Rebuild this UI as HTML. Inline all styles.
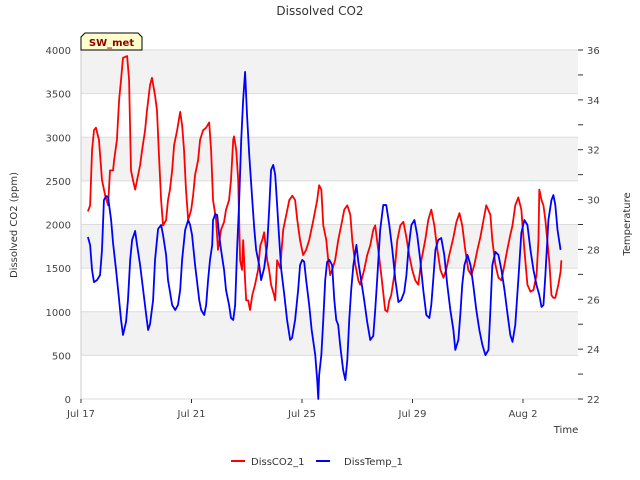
<!DOCTYPE html>
<html><head><meta charset="utf-8"><style>
body{margin:0;background:#fff;}
svg{display:block;font-family:"DejaVu Sans","Liberation Sans",sans-serif;}
</style></head><body>
<svg id="chart" width="640" height="480" viewBox="0 0 640 480">
<text x="320" y="15" text-anchor="middle" font-size="12" fill="#333">Dissolved CO2</text>
<g id="grid"></g>
<g id="axes"></g>
<g id="series"></g>
<g>
<path d="M81,50 L81,37 L85,33 L138,33 L142,37 L142,50 Z" fill="#ffffcc" stroke="#000" stroke-width="1"/>
<text x="111.5" y="46" text-anchor="middle" font-size="10" font-weight="bold" fill="#8b0000">SW_met</text>
</g>
<text transform="translate(17,225) rotate(-90)" text-anchor="middle" font-size="10" fill="#333">Dissolved CO2 (ppm)</text>
<text transform="translate(630,224) rotate(-90)" text-anchor="middle" font-size="10" fill="#333">Temperature</text>
<text x="566" y="433" text-anchor="middle" font-size="10" fill="#333">Time</text>
<g>
<g><line x1="231" y1="461" x2="245" y2="461" stroke="#f00" stroke-width="2"/><text x="251" y="465" font-size="10" fill="#333">DissCO2_1</text></g>
<g><line x1="316" y1="461" x2="330" y2="461" stroke="#00f" stroke-width="2"/><text x="344" y="465" font-size="10" fill="#333">DissTemp_1</text></g>
</g>
</svg>
<script>
const co2Days=[0.25,0.33,0.40,0.47,0.54,0.65,0.76,0.87,0.98,1.05,1.16,1.20,1.30,1.38,1.45,1.52,1.67,1.74,1.81,1.88,1.96,2.03,2.14,2.21,2.32,2.39,2.50,2.57,2.68,2.75,2.83,2.90,2.97,3.08,3.15,3.22,3.30,3.37,3.48,3.59,3.66,3.73,3.80,3.88,3.99,4.06,4.13,4.24,4.31,4.42,4.53,4.64,4.71,4.78,4.89,4.96,5.07,5.18,5.25,5.36,5.43,5.51,5.54,5.62,5.69,5.76,5.83,5.87,5.94,5.98,6.05,6.12,6.20,6.30,6.41,6.49,6.56,6.63,6.74,6.81,6.88,6.99,7.03,7.10,7.21,7.32,7.43,7.54,7.65,7.75,7.83,7.93,8.04,8.15,8.26,8.41,8.55,8.62,8.70,8.77,8.88,8.95,9.02,9.09,9.20,9.31,9.42,9.53,9.64,9.75,9.82,9.93,10.04,10.11,10.25,10.36,10.47,10.58,10.65,10.76,10.87,11.01,11.09,11.16,11.23,11.34,11.45,11.56,11.67,11.78,11.88,11.99,12.10,12.21,12.32,12.46,12.57,12.68,12.79,12.90,13.01,13.12,13.22,13.33,13.48,13.59,13.70,13.80,13.91,14.02,14.13,14.24,14.35,14.46,14.57,14.67,14.82,14.89,15.00,15.11,15.22,15.33,15.43,15.54,15.62,15.72,15.83,15.94,16.05,16.16,16.27,16.38,16.49,16.56,16.59,16.67,16.74,16.81,16.88,16.96,17.03,17.10,17.17,17.28,17.36,17.39];
const co2Values=[2150,2220,2850,3080,3110,2970,2510,2340,2220,2620,2620,2740,2970,3430,3660,3910,3930,3660,2620,2510,2400,2510,2680,2850,3080,3310,3600,3680,3480,3310,2740,2280,1990,2050,2280,2400,2620,2910,3080,3290,3140,2850,2400,2050,2170,2340,2570,2740,2970,3080,3110,3170,2850,2280,2050,1710,1940,2030,2170,2280,2510,2970,3010,2850,2510,1590,1480,1820,1360,1130,1130,1020,1190,1310,1480,1760,1820,1910,1590,1480,1310,1190,1130,1590,1500,1940,2110,2280,2330,2280,2050,1820,1650,1710,1820,2050,2280,2450,2400,1990,1820,1590,1420,1480,1590,1820,1990,2170,2220,2110,1820,1540,1360,1310,1480,1650,1760,1940,1990,1710,1420,1020,1000,1130,1190,1420,1820,1990,2030,1850,1650,1480,1360,1310,1590,1820,2050,2170,1990,1710,1480,1390,1480,1650,1850,2030,2130,1990,1710,1480,1420,1540,1710,1860,2050,2220,2110,1820,1540,1390,1360,1540,1710,1880,1990,2220,2310,2170,1710,1310,1230,1250,1420,1820,2400,2280,2220,2050,1820,1540,1190,1160,1160,1310,1460,1590];
const tempDays=[0.25,0.33,0.40,0.47,0.58,0.69,0.76,0.83,0.91,0.98,1.09,1.16,1.27,1.38,1.45,1.52,1.63,1.70,1.78,1.85,1.96,2.03,2.14,2.25,2.36,2.43,2.50,2.61,2.68,2.79,2.90,2.97,3.08,3.15,3.30,3.41,3.51,3.59,3.66,3.77,3.88,3.95,4.02,4.13,4.28,4.35,4.46,4.53,4.60,4.67,4.75,4.78,4.86,4.93,5.00,5.07,5.18,5.25,5.36,5.43,5.51,5.58,5.65,5.72,5.80,5.87,5.94,6.01,6.09,6.20,6.27,6.34,6.45,6.52,6.63,6.74,6.81,6.88,6.96,7.03,7.10,7.17,7.25,7.36,7.46,7.57,7.64,7.75,7.86,7.93,8.01,8.08,8.15,8.26,8.35,8.48,8.55,8.59,8.62,8.70,8.77,8.84,8.91,8.99,9.09,9.17,9.24,9.31,9.38,9.49,9.57,9.64,9.71,9.78,9.86,9.97,10.04,10.14,10.25,10.36,10.47,10.58,10.65,10.72,10.83,10.94,11.05,11.16,11.27,11.38,11.49,11.59,11.70,11.78,11.85,11.96,12.07,12.17,12.28,12.39,12.50,12.61,12.68,12.75,12.83,12.93,13.04,13.15,13.26,13.37,13.48,13.55,13.66,13.73,13.80,13.88,13.99,14.10,14.20,14.31,14.42,14.53,14.64,14.75,14.82,14.89,15.00,15.11,15.22,15.33,15.43,15.54,15.62,15.72,15.83,15.94,16.05,16.16,16.27,16.38,16.49,16.59,16.67,16.74,16.81,16.92,17.03,17.10,17.17,17.25,17.36];
const tempValues=[28.50,28.18,27.17,26.69,26.77,26.97,27.98,29.98,30.14,30.10,29.18,28.26,27.17,25.97,25.17,24.57,25.09,25.97,27.58,28.38,28.74,28.18,27.37,26.37,25.37,24.77,25.01,25.97,27.58,28.82,28.98,28.58,27.78,26.77,25.77,25.57,25.77,26.37,27.58,28.78,29.18,28.98,28.58,27.37,25.97,25.57,25.37,25.77,26.77,27.58,28.18,29.18,29.42,29.38,28.58,27.98,27.17,26.37,25.77,25.25,25.17,25.77,27.98,29.78,32.39,33.99,35.12,33.39,31.79,29.98,28.86,27.98,27.37,26.77,27.25,28.18,29.58,31.19,31.39,30.99,29.78,28.50,27.17,26.17,25.17,24.37,24.45,25.17,26.37,27.37,27.58,27.50,26.77,25.77,24.77,23.76,22.76,22.0,22.96,23.76,25.17,26.77,27.50,27.58,27.37,25.97,25.17,24.97,24.17,23.16,22.76,23.56,25.17,26.37,27.37,28.18,27.50,26.77,25.97,25.09,24.37,24.53,25.57,26.77,28.78,29.78,29.78,28.98,27.98,26.77,25.89,25.97,26.29,26.97,27.98,28.98,29.18,28.58,27.58,26.37,25.37,25.25,25.77,26.77,27.98,28.38,28.46,27.78,26.57,25.57,24.77,23.97,24.37,25.37,26.57,27.37,27.78,27.37,26.57,25.57,24.77,24.17,23.76,23.97,25.57,27.37,27.90,27.78,27.17,26.37,25.49,24.57,24.29,24.97,26.77,28.66,29.18,28.98,27.98,27.17,26.57,26.17,25.69,25.77,26.97,29.18,29.98,30.18,29.78,28.78,27.98];
const xTickDays=[0,4,8,12,16];
const xTickLabels=["Jul 17","Jul 21","Jul 25","Jul 29","Aug 2"];
const yTicks=[0,500,1000,1500,2000,2500,3000,3500,4000];
const y2Ticks=[22,24,26,28,30,32,34,36];

const NS="http://www.w3.org/2000/svg";
const L=81,R=578,T=50,B=399;
const xs=d=>L+d*27.625;
const ys=v=>B-(v/4000)*(B-T);
const y2s=t=>B-((t-22)/14)*(B-T);
function mk(tag,attrs,parent){const e=document.createElementNS(NS,tag);for(const k in attrs)e.setAttribute(k,attrs[k]);parent.appendChild(e);return e;}
const grid=document.getElementById('grid'),axes=document.getElementById('axes'),series=document.getElementById('series');
for(let i=0;i<yTicks.length-1;i++){
  if(i%2===1){const r=mk('rect',{x:L,y:ys(yTicks[i+1]),width:R-L,height:ys(yTicks[i])-ys(yTicks[i+1]),fill:'#f2f2f2'},grid);
  
  }
}
yTicks.forEach(v=>{
  const l=mk('line',{x1:L,x2:R,y1:ys(v),y2:ys(v),stroke:'#dcdcdc','stroke-width':1},grid);
  
  
  const t=mk('text',{x:71,y:ys(v)+4,'text-anchor':'end','font-size':10,fill:'#444'},axes);
  t.textContent=v;
  
  
});
const la=mk('line',{x1:L,x2:L,y1:T,y2:B,stroke:'#ccc'},axes);


for(let t=22;t<=36;t++){
  const tk=mk('line',{x1:R,x2:R+5,y1:y2s(t),y2:y2s(t),stroke:'#333'},axes);
  
  
}
y2Ticks.forEach(t=>{
  const tx=mk('text',{x:587,y:y2s(t)+4,'font-size':10,fill:'#444'},axes);
  tx.textContent=t;
  
  
});
xTickDays.forEach((d,i)=>{
  const tk=mk('line',{x1:xs(d),x2:xs(d),y1:B,y2:B+4,stroke:'#333'},axes);
  
  
  const tx=mk('text',{x:xs(d),y:417,'text-anchor':'middle','font-size':10,fill:'#444'},axes);
  tx.textContent=xTickLabels[i];
  
  
});
const co2Path=mk('polyline',{points:co2Days.map((d,i)=>xs(d)+','+ys(co2Values[i])).join(' '),fill:'none',stroke:'#f00','stroke-width':1.8,'stroke-linejoin':'round'},series);


const tPath=mk('polyline',{points:tempDays.map((d,i)=>xs(d)+','+y2s(tempValues[i])).join(' '),fill:'none',stroke:'#00f','stroke-width':1.8,'stroke-linejoin':'round'},series);


</script>
</body></html>
